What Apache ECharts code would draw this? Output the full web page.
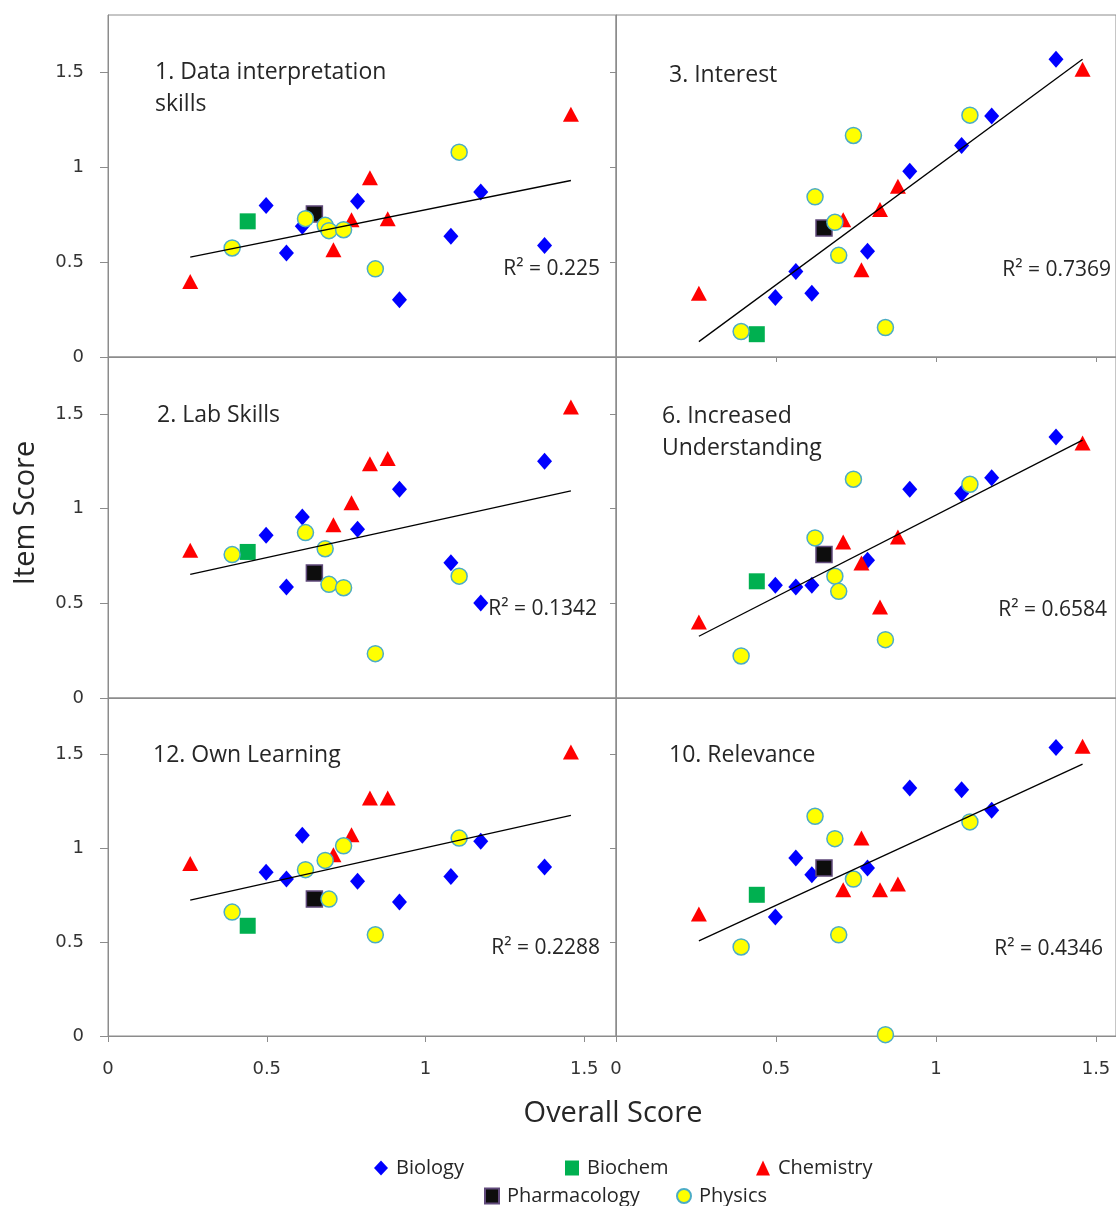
<!DOCTYPE html>
<html>
<head>
<meta charset="utf-8">
<title>Item Score vs Overall Score</title>
<script src="https://cdn.jsdelivr.net/npm/echarts@6/dist/echarts.min.js"></script>
<style>
  html, body { margin: 0; padding: 0; background: #fff; }
  #chart { width: 1116px; height: 1206px; }
</style>
</head>
<body>
<div id="chart"></div>
<script>
// === data ===
// overall score (x) per department, same in every panel
const biologyX = [0.498, 0.562, 0.612, 0.786, 0.918, 1.080, 1.174, 1.375];
const biochemX = [0.44];
const chemistryX = [0.259, 0.710, 0.767, 0.825, 0.881, 1.458];
const pharmacologyX = [0.65];
const physicsX = [0.391, 0.622, 0.684, 0.696, 0.742, 0.842, 1.106];

// panel order: top-left, top-right, middle-left, middle-right, bottom-left, bottom-right
const panelTitles = ['1. Data interpretation\nskills', '3. Interest', '2. Lab Skills',
                     '6. Increased\nUnderstanding', '12. Own Learning', '10. Relevance'];
const rSquaredLabels = ['R\u00b2 = 0.225', 'R\u00b2 = 0.7369', 'R\u00b2 = 0.1342',
                        'R\u00b2 = 0.6584', 'R\u00b2 = 0.2288', 'R\u00b2 = 0.4346'];

// item score (y) per panel, one row per panel, same order as the x arrays
const biologyY = [
    [0.798, 0.547, 0.688, 0.820, 0.301, 0.635, 0.869, 0.587],
    [0.313, 0.450, 0.336, 0.556, 0.978, 1.113, 1.268, 1.567],
    [0.859, 0.586, 0.956, 0.891, 1.102, 0.714, 0.502, 1.250],
    [0.595, 0.586, 0.595, 0.727, 1.102, 1.079, 1.163, 1.378],
    [0.872, 0.836, 1.069, 0.824, 0.714, 0.850, 1.037, 0.900],
    [0.634, 0.948, 0.859, 0.895, 1.321, 1.312, 1.202, 1.537]
];
const biochemY = [[0.714], [0.120], [0.771], [0.616], [0.587], [0.752]];
const chemistryY = [
    [0.397, 0.565, 0.723, 0.943, 0.728, 1.277],
    [0.336, 0.723, 0.459, 0.776, 0.899, 1.515],
    [0.780, 0.915, 1.031, 1.237, 1.264, 1.536],
    [0.401, 0.824, 0.713, 0.480, 0.850, 1.346],
    [0.918, 0.965, 1.072, 1.267, 1.267, 1.512],
    [0.650, 0.779, 1.054, 0.779, 0.809, 1.543]
];
const pharmacologyY = [[0.753], [0.679], [0.660], [0.757], [0.729], [0.895]];
const physicsY = [
    [0.574, 0.728, 0.693, 0.665, 0.670, 0.464, 1.078],
    [0.134, 0.843, 0.709, 0.535, 1.166, 0.155, 1.273],
    [0.757, 0.873, 0.788, 0.600, 0.582, 0.234, 0.643],
    [0.222, 0.845, 0.643, 0.563, 1.155, 0.308, 1.128],
    [0.660, 0.886, 0.935, 0.729, 1.013, 0.539, 1.054],
    [0.474, 1.170, 1.051, 0.539, 0.836, 0.007, 1.140]
];

// linear trend line end points per panel
const trendX = [0.259, 1.458];
const trendY = [
    [0.526, 0.929], [0.081, 1.567], [0.653, 1.093],
    [0.326, 1.361], [0.723, 1.175], [0.507, 1.448]
];

const tickValues = [0, 0.5, 1, 1.5];

// === layout ===
const colLeft = [108, 616];
const colWidth = [508, 500];
const colXMax = [1.6, 1.5625];        // right column is cut off by the page edge, like the original
const rowTop = [15, 357, 698];
const rowHeight = [342, 341, 338];
const titlePos = [[155, 56], [669, 59], [157, 399], [662, 400], [153, 739], [669, 739]];
const rSquaredPos = [[600, 269], [1111, 270], [597, 609], [1107, 610], [600, 948], [1103, 949]];

const axisGray = '#8c8c8c';
const textDark = '#262626';

// department styles
const departments = [
    { name: 'Biology', x: biologyX, y: biologyY, symbol: 'diamond', size: [15, 17],
      style: { color: '#0000ff', opacity: 1 }, icon: 'diamond' },
    { name: 'Biochem', x: biochemX, y: biochemY, symbol: 'rect', size: 16,
      style: { color: '#00b050', opacity: 1 }, icon: 'rect' },
    { name: 'Chemistry', x: chemistryX, y: chemistryY, symbol: 'triangle', size: [16, 15],
      style: { color: '#ff0000', opacity: 1 }, icon: 'triangle' },
    { name: 'Pharmacology', x: pharmacologyX, y: pharmacologyY, symbol: 'rect', size: 16,
      style: { color: '#0d0d0d', borderColor: '#604a7b', borderWidth: 1.5, opacity: 1 }, icon: 'rect' },
    { name: 'Physics', x: physicsX, y: physicsY, symbol: 'circle', size: 16,
      style: { color: '#ffff00', borderColor: '#4bacc6', borderWidth: 1.5, opacity: 1 }, icon: 'circle' }
];

const grids = [], xAxes = [], yAxes = [], series = [], graphics = [];

for (let i = 0; i < 6; i++) {
    const col = i % 2, row = Math.floor(i / 2);
    const isBottom = row === 2;

    grids.push({
        left: colLeft[col], top: rowTop[row], width: colWidth[col], height: rowHeight[row],
        show: true, borderColor: axisGray, borderWidth: 1, containLabel: false
    });

    xAxes.push({
        gridIndex: i, type: 'value', min: 0, max: colXMax[col],
        axisLine: { show: true, onZero: false, lineStyle: { color: axisGray } },
        axisTick: { show: isBottom, length: 6, customValues: tickValues, lineStyle: { color: axisGray } },
        axisLabel: {
            show: isBottom, customValues: tickValues, margin: 24,
            fontFamily: 'DejaVu Sans', fontSize: 18, color: '#333'
        },
        splitLine: { show: false }
    });

    yAxes.push({
        gridIndex: i, type: 'value', min: 0, max: 1.8,
        axisLine: { show: true, onZero: false, lineStyle: { color: axisGray } },
        axisTick: { show: true, length: col === 0 ? 8 : 6, customValues: tickValues, lineStyle: { color: axisGray } },
        axisLabel: {
            show: col === 0, customValues: tickValues, margin: 24,
            fontFamily: 'DejaVu Sans', fontSize: 18, color: '#333'
        },
        splitLine: { show: false }
    });

    departments.forEach(d => {
        series.push({
            name: d.name, type: 'scatter', xAxisIndex: i, yAxisIndex: i,
            symbol: d.symbol, symbolSize: d.size, itemStyle: d.style,
            emphasis: { disabled: true }, z: 2,
            data: d.x.map((x, k) => [x, d.y[i][k]])
        });
    });

    // trend line on top of the markers
    series.push({
        name: 'trend' + i, type: 'line', xAxisIndex: i, yAxisIndex: i,
        symbol: 'none', silent: true, z: 3,
        lineStyle: { color: '#000', width: 1.3 },
        data: trendX.map((x, k) => [x, trendY[i][k]])
    });

    graphics.push({
        type: 'text', x: titlePos[i][0], y: titlePos[i][1],
        style: {
            text: panelTitles[i], fill: textDark, font: '23px "Open Sans"',
            lineHeight: 32, verticalAlign: 'top'
        }
    });
    graphics.push({
        type: 'text', x: rSquaredPos[i][0], y: rSquaredPos[i][1],
        style: {
            text: rSquaredLabels[i], fill: textDark, font: '21px "Open Sans"',
            align: 'right', verticalAlign: 'middle'
        }
    });
}

// inward ticks along the top of the top-right and bottom panels
[1, 4, 5].forEach(i => {
    xAxes.push({
        gridIndex: i, type: 'value', min: 0, max: colXMax[i % 2], position: 'top',
        axisLine: { show: false },
        axisTick: { show: true, inside: true, length: 5, customValues: tickValues, lineStyle: { color: axisGray } },
        axisLabel: { show: false },
        splitLine: { show: false }
    });
});

// axis titles
graphics.push({
    type: 'text', x: 613, y: 1114,
    style: { text: 'Overall Score', fill: textDark, font: '29px "Open Sans"', align: 'center', verticalAlign: 'middle' }
});
graphics.push({
    type: 'text', x: 26, y: 513, rotation: Math.PI / 2,
    style: { text: 'Item Score', fill: textDark, font: '29px "Open Sans"', align: 'center', verticalAlign: 'middle' }
});

// one legend per entry to keep the original's column spacing
const legendPos = [[369, 1153], [560, 1153], [751, 1153], [479, 1181], [671, 1181]];
const legends = departments.map((d, k) => ({
    left: legendPos[k][0], top: legendPos[k][1],
    data: [{ name: d.name, icon: d.icon }],
    itemWidth: 14, itemHeight: 15, selectedMode: false,
    textStyle: { fontFamily: 'Open Sans', fontSize: 20, color: textDark, padding: [0, 0, 0, 3] }
}));

const chart = echarts.init(document.getElementById('chart'), null, { renderer: 'canvas' });
chart.setOption({
    animation: false,
    backgroundColor: '#fff',
    grid: grids,
    xAxis: xAxes,
    yAxis: yAxes,
    legend: legends,
    series: series,
    graphic: graphics
});
</script>
</body>
</html>
